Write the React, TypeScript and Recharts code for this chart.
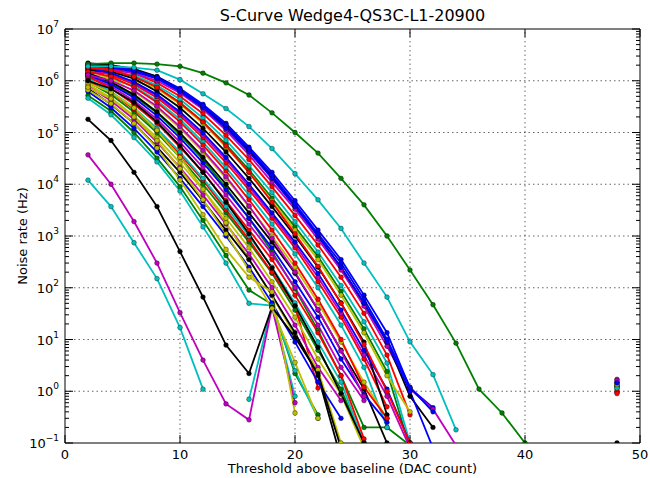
import React from 'react';
import { LineChart, Line, XAxis, YAxis, ReferenceLine, ReferenceArea } from 'recharts';

// threshold steps (DAC count) – every series starts at x = 2
const thresholds = [2, 4, 6, 8, 10, 12, 14, 16, 18, 20, 22, 24, 26, 28, 30, 32, 34, 36, 38, 40, 42, 44, 46, 48];
const xTicks = [0, 10, 20, 30, 40, 50];
const yMajorTicks = [0.1, 1, 10, 100, 1e3, 1e4, 1e5, 1e6, 1e7];

// noise rate (Hz) per channel
const ch01 = [2.1e6, 1.9e6, 1.6e6, 1.2e6, 7.1e5, 3.5e5, 1.5e5, 5.2e4, 1.7e4, 4.8e3, 1.3e3, 3.5e2, 72, 13.5, 1.15, 0.48];
const ch02 = [1.7e6, 1.6e6, 1.2e6, 7.4e5, 3.8e5, 1.6e5, 5.9e4, 1.9e4, 5.4e3, 1.5e3, 4e2, 85, 16, 2.4, 0.08];
const ch03 = [1.9e6, 1.7e6, 1.4e6, 9.1e5, 5e5, 2.3e5, 8.8e4, 3e4, 8.9e3, 2.5e3, 6.7e2, 1.6e2, 32, 5, 0.35];
const ch04 = [1.5e6, 1.4e6, 1.3e6, 8.1e5, 4.4e5, 1.9e5, 7.1e4, 2.3e4, 6.9e3, 1.9e3, 4.9e2, 1.1e2, 22, 3.5, 0.1];
const ch05 = [1.7e6, 1.6e6, 1.4e6, 1e6, 5.8e5, 2.8e5, 1.1e5, 3.7e4, 1.1e4, 3.3e3, 8.7e2, 2.2e2, 44, 7.4, 1.1, 0.45, 0.09];
const ch06 = [1.3e6, 1.2e6, 1e6, 7.1e5, 3.5e5, 1.5e5, 5.2e4, 1.7e4, 4.8e3, 1.3e3, 3.5e2, 72, 13.5, 2, 0.4];
const ch07 = [2.2e6, 2e6, 1.7e6, 1.2e6, 6.5e5, 3.1e5, 1.3e5, 4.5e4, 1.4e4, 3.8e3, 1e3, 2.5e2, 50, 9, 0.8, 0.2];
const ch08 = [2e6, 1.8e6, 1.5e6, 1.1e6, 6.2e5, 3e5, 1.2e5, 4.2e4, 1.3e4, 3.7e3, 1e3, 2.5e2, 51, 8.9, 1, 0.08];
const ch09 = [1.3e6, 9e5, 5e5, 2.4e5, 9e4, 3e4, 8.5e3, 2.2e3, 5e2, 95, 15, 2, 0.2, 0.2, 0.09];
const ch10 = [1.7e6, 1.3e6, 8.5e5, 4.7e5, 2.1e5, 7.9e4, 2.6e4, 7.8e3, 2.2e3, 5.9e2, 1.3e2, 27, 4.2, 0.5];
const ch11 = [1.2e6, 1.1e6, 7.8e5, 4.1e5, 1.8e5, 6.5e4, 2.1e4, 6.2e3, 1.7e3, 4.5e2, 1e2, 19, 2.9, 0.2];
const ch12 = [1.4e6, 1.4e6, 9.1e5, 5e5, 2.3e5, 8.8e4, 3e4, 8.9e3, 2.5e3, 6.7e2, 1.6e2, 32, 5, 0.8, 0.08];
const ch13 = [1.1e6, 1.1e6, 6.2e5, 3e5, 1.2e5, 4.2e4, 1.3e4, 3.7e3, 1e3, 2.5e2, 51, 8.9, 1.5, 0.3];
const ch14 = [1.6e6, 1.5e6, 1.1e6, 6.2e5, 3e5, 1.2e5, 4.2e4, 1.3e4, 3.7e3, 1e3, 2.5e2, 51, 8.9, 0.35];
const ch15 = [1.8e6, 1.4e6, 9.5e5, 5.4e5, 2.5e5, 9.8e4, 3.3e4, 1e4, 2.8e3, 7.6e2, 1.9e2, 37, 6.2, 1.1, 0.1];
const ch16 = [9.5e5, 5.4e5, 2.5e5, 9.8e4, 3.3e4, 1e4, 2.8e3, 7.6e2, 1.9e2, 37, 6.2, 1.1, 0.1];
const ch17 = [1e6, 6e5, 2.8e5, 1.1e5, 3.8e4, 1.2e4, 3.2e3, 8.5e2, 2e2, 45, 1.15];
const ch18 = [1.1e6, 6.2e5, 3e5, 1.2e5, 4.2e4, 1.3e4, 3.7e3, 1e3, 2.5e2, 51, 8.9, 1.5, 0.1];
const ch19 = [1.2e6, 7.8e5, 4.1e5, 1.8e5, 6.5e4, 2.1e4, 6.2e3, 1.7e3, 4.5e2, 1e2, 19, 2.9, 0.66];
const ch20 = [8.5e5, 4.7e5, 2.1e5, 7.9e4, 2.6e4, 7.8e3, 2.2e3, 5.9e2, 1.3e2, 27, 4.2, 0.87, 0.08];
const ch21 = [1.4e6, 9.5e5, 5.4e5, 2.5e5, 9.8e4, 3.3e4, 1e4, 2.8e3, 7.6e2, 1.9e2, 37, 6.2, 1.1, 0.1];
const ch22 = [1.3e6, 8.5e5, 4.7e5, 2.1e5, 7.9e4, 2.6e4, 7.8e3, 2.2e3, 5.9e2, 1.3e2, 27, 4.2, 0.87, 0.25];
const ch23 = [1.2e6, 7.1e5, 3.5e5, 1.5e5, 5.2e4, 1.7e4, 4.8e3, 1.3e3, 3.5e2, 72, 13.5, 2, 0.12];
const ch24 = [4.6e5, 2.2e5, 8e4, 2.7e4, 7.4e3, 1.5e3, 3e2, 50, 45, 0.8];
const ch25 = [7.8e5, 4.1e5, 1.8e5, 6.5e4, 2.1e4, 6.2e3, 1.7e3, 4.5e2, 1e2, 19, 2.9, 0.66];
const ch26 = [9e5, 6e5, 3e5, 1.1e5, 3.3e4, 8e3, 1.8e3, 3.6e2, 70, 12, 2.6, 0.1];
const ch27 = [7.1e5, 3.5e5, 1.5e5, 5.2e4, 1.7e4, 4.8e3, 1.3e3, 3.5e2, 72, 13.5, 2, 0.05];
const ch28 = [6.2e5, 3e5, 1.2e5, 4.2e4, 1.3e4, 3.7e3, 1e3, 2.5e2, 51, 8.9, 1.5, 0.3];
const ch29 = [5.2e5, 2.6e5, 1e5, 3.2e4, 9e3, 2e3, 4.2e2, 90, 48, 2.2, 0.35];
const ch30 = [1.5e6, 1.2e6, 7.5e5, 3.8e5, 1.6e5, 5.7e4, 1.8e4, 5e3, 1.3e3, 3e2, 60, 10, 1.2, 0.3];
const ch31 = [1.2e4, 3.7e3, 7.4e2, 1.5e2, 17, 1.1, null, 0.7, 45, 2.5, 0.3];
const ch32 = [3.7e4, 1e4, 1.9e3, 3e2, 33, 4, 0.57, 0.28, 42, 0.6];
const ch33 = [6.6e5, 3.6e5, 1.5e5, 5e4, 1.2e4, 2.6e3, 5.5e2, 1.6e2, 83, 0.38];
const ch34 = [1.8e5, 7e4, 1.7e4, 3.7e3, 5e2, 66, 7.8, 2.2, 42, 11, 2.2, 0.08];
const ch35 = [2e6, 1.9e6, 1.6e6, 1.15e6, 6.8e5, 3.3e5, 1.4e5, 4.8e4, 1.5e4, 4.2e3, 1.1e3, 3e2, 60, 10, 1.2, 0.4];
const ch36 = [2.1e6, 2.2e6, 2.2e6, 2.1e6, 1.9e6, 1.4e6, 9.1e5, 5.3e5, 2.4e5, 1e5, 4e4, 1.3e4, 4e3, 1e3, 2.2e2, 47, 8.5, 1.1, 0.38, 0.1];
const ch37 = [1.8e6, 1.6e6, 1.2e6, 7.5e5, 3.7e5, 1.6e5, 5.5e4, 1.7e4, 4.5e3, 1.1e3, 2.6e2, 50, 8, 1, 0.1];
const ch38 = [1.9e6, 1.9e6, 1.8e6, 1.6e6, 1.05e6, 5.6e5, 2.9e5, 1.3e5, 4.9e4, 1.6e4, 5e3, 1.4e3, 3e2, 66, 9, 2.1, 0.18];
const ch39 = [1.3e6, 1e6, 6.5e5, 3.2e5, 1.3e5, 4.5e4, 1.4e4, 3.8e3, 9e2, 2e2, 38, 6, 0.8];
const ch40 = [7.5e5, 4.5e5, 2e5, 7e4, 2e4, 5e3, 1.1e3, 2.2e2, 40, 3.6, 0.3];
const ch41 = [1e6, 7e5, 3.8e5, 1.6e5, 5.5e4, 1.7e4, 4.5e3, 1.1e3, 2.4e2, 45, 7, 0.9, 0.1];

// isolated points at threshold 48
const at48: Record<string, number> = {
  ch05: 1.7, ch12: 1.6, ch08: 1.5, ch15: 1.45, ch06: 1.4, ch13: 1.35, ch01: 1.3,
  ch09: 1.25, ch02: 1.2, ch11: 1.15, ch04: 1.1, ch10: 1.0, ch03: 0.95, ch37: 0.9, ch07: 0.1,
};

const B = '#0000ff', G = '#008000', R = '#ff0000', C = '#00bfbf', M = '#bf00bf', Y = '#bfbf00', K = '#000000';

const series: { key: string; color: string; values: (number | null)[] }[] = [
  { key: 'ch01', color: B, values: ch01 }, { key: 'ch02', color: G, values: ch02 },
  { key: 'ch03', color: R, values: ch03 }, { key: 'ch04', color: C, values: ch04 },
  { key: 'ch05', color: M, values: ch05 }, { key: 'ch06', color: Y, values: ch06 },
  { key: 'ch07', color: K, values: ch07 }, { key: 'ch08', color: B, values: ch08 },
  { key: 'ch09', color: G, values: ch09 }, { key: 'ch10', color: R, values: ch10 },
  { key: 'ch11', color: C, values: ch11 }, { key: 'ch12', color: M, values: ch12 },
  { key: 'ch13', color: Y, values: ch13 }, { key: 'ch14', color: K, values: ch14 },
  { key: 'ch15', color: B, values: ch15 }, { key: 'ch16', color: G, values: ch16 },
  { key: 'ch17', color: R, values: ch17 }, { key: 'ch18', color: C, values: ch18 },
  { key: 'ch19', color: M, values: ch19 }, { key: 'ch20', color: Y, values: ch20 },
  { key: 'ch21', color: K, values: ch21 }, { key: 'ch22', color: B, values: ch22 },
  { key: 'ch29', color: G, values: ch29 }, { key: 'ch23', color: R, values: ch23 },
  { key: 'ch24', color: C, values: ch24 }, { key: 'ch25', color: M, values: ch25 },
  { key: 'ch26', color: Y, values: ch26 }, { key: 'ch27', color: K, values: ch27 },
  { key: 'ch28', color: B, values: ch28 }, { key: 'ch30', color: R, values: ch30 },
  { key: 'ch31', color: C, values: ch31 }, { key: 'ch32', color: M, values: ch32 },
  { key: 'ch33', color: Y, values: ch33 }, { key: 'ch34', color: K, values: ch34 },
  { key: 'ch35', color: B, values: ch35 }, { key: 'ch36', color: G, values: ch36 },
  { key: 'ch37', color: R, values: ch37 }, { key: 'ch38', color: C, values: ch38 },
  { key: 'ch39', color: M, values: ch39 }, { key: 'ch40', color: Y, values: ch40 },
  { key: 'ch41', color: K, values: ch41 },
];

const data = thresholds.map((x, i) => {
  const row: Record<string, number | null> = { x };
  series.forEach((s) => {
    const v = s.values[i];
    row[s.key] = v != null ? v : x === 48 && at48[s.key] != null ? at48[s.key] : null;
  });
  return row;
});

const yTicks: number[] = [];
yMajorTicks.forEach((t, i) => {
  yTicks.push(t);
  if (i < yMajorTicks.length - 1) for (let m = 2; m < 10; m++) yTicks.push(t * m);
});

// plot box
const PL = 65, PR = 640, PT = 29, PB = 443;
const FONT = 'DejaVu Sans, sans-serif';

const YTick = ({ y, payload }: any) => {
  const v = payload.value;
  const lg = Math.log10(v);
  const exp = Math.round(lg);
  const major = Math.abs(lg - exp) < 1e-6;
  const len = major ? 8 : 4;
  return (
    <g>
      <line x1={PL} x2={PL + len} y1={y} y2={y} stroke="#000" strokeWidth={1} />
      <line x1={PR} x2={PR - len} y1={y} y2={y} stroke="#000" strokeWidth={1} />
      {major && (
        <text x={PL - 6} y={y + 5} textAnchor="end" fontSize={13} fontFamily={FONT} fill="#000">
          10<tspan dy={-7} fontSize={9}>{exp < 0 ? '\u2212' + Math.abs(exp) : exp}</tspan>
        </text>
      )}
    </g>
  );
};

const XTick = ({ x, payload }: any) => (
  <g>
    <line x1={x} x2={x} y1={PB} y2={PB - 8} stroke="#000" strokeWidth={1} />
    <line x1={x} x2={x} y1={PT} y2={PT + 8} stroke="#000" strokeWidth={1} />
    <text x={x} y={PB + 16} textAnchor="middle" fontSize={13} fontFamily={FONT} fill="#000">
      {payload.value}
    </text>
  </g>
);

export default function App() {
  return (
    <div style={{ position: 'absolute', left: 0, top: 0, width: 650, height: 478, background: '#fff', fontFamily: FONT }}>
      <div style={{ position: 'absolute', left: PL, width: PR - PL, top: 6, textAlign: 'center', fontSize: 16 }}>
        S-Curve Wedge4-QS3C-L1-20900
      </div>
      <div style={{ position: 'absolute', left: PL, width: PR - PL, top: 461, textAlign: 'center', fontSize: 13 }}>
        Threshold above baseline (DAC count)
      </div>
      <div
        style={{
          position: 'absolute', left: 22, top: (PT + PB) / 2, fontSize: 13, whiteSpace: 'nowrap',
          transform: 'translate(-50%, -50%) rotate(-90deg)',
        }}
      >
        Noise rate (Hz)
      </div>
      <LineChart width={650} height={478} data={data} margin={{ top: PT, right: 650 - PR, left: 0, bottom: 0 }}>
        <XAxis
          dataKey="x"
          type="number"
          domain={[0, 50]}
          ticks={xTicks}
          interval={0}
          allowDataOverflow
          height={35}
          axisLine={false}
          tickLine={false}
          tick={<XTick />}
        />
        <YAxis
          scale="log"
          domain={[0.1, 1e7]}
          ticks={yTicks}
          interval={0}
          allowDataOverflow
          width={65}
          axisLine={false}
          tickLine={false}
          tick={<YTick />}
        />
        {yMajorTicks.slice(1, -1).map((t) => (
          <ReferenceLine key={'gy' + t} y={t} stroke="#000" strokeWidth={0.6} strokeDasharray="1.5 3" />
        ))}
        {xTicks.slice(1, -1).map((t) => (
          <ReferenceLine key={'gx' + t} x={t} stroke="#000" strokeWidth={0.6} strokeDasharray="1.5 3" />
        ))}
        {series.map((s) => (
          <Line
            key={s.key}
            dataKey={s.key}
            stroke={s.color}
            strokeWidth={1.8}
            dot={{ r: 2.4, fill: s.color, stroke: '#000', strokeOpacity: 0.5, strokeWidth: 0.7 }}
            activeDot={false}
            connectNulls={false}
            isAnimationActive={false}
          />
        ))}
        <ReferenceArea x1={0} x2={50} y1={0.1} y2={1e7} fill="none" stroke="#000" strokeWidth={1} ifOverflow="visible" />
      </LineChart>
    </div>
  );
}
